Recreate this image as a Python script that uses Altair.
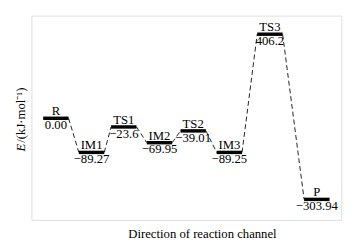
import altair as alt
import pandas as pd

species = ["R", "IM1", "TS1", "IM2", "TS2", "IM3", "TS3", "P"]
energies = ["0.00", "−89.27", "−23.6", "−69.95", "−39.01", "−89.25", "406.2", "−303.94"]
# drawn (schematic) levels
levels = [0, -165, -42, -118, -61, -165, 406.2, -392]
# stage positions along the reaction channel
stage_pos = [25, 61.5, 94.5, 131, 165.5, 202.5, 244, 292]

HALF = 13
bars = pd.DataFrame({
    "name": species, "energy": energies, "level": levels,
    "x0": [p - HALF for p in stage_pos], "x1": [p + HALF for p in stage_pos],
    "xc": stage_pos,
})
links = pd.DataFrame({
    "xa": [stage_pos[i] + HALF for i in range(len(species) - 1)],
    "xb": [stage_pos[i + 1] - HALF for i in range(len(species) - 1)],
    "ya": levels[:-1],
    "yb": levels[1:],
})

W, H = 317, 209
xs = alt.Scale(domain=[0, W], nice=False, zero=False)
ys = alt.Scale(domain=[-491, 496], nice=False, zero=False)
FONT = "Liberation Serif"
FS = 13

lvl = alt.Chart(bars).mark_rule(color="black", strokeWidth=3.5).encode(
    x=alt.X("x0:Q", scale=xs, axis=None), x2="x1:Q",
    y=alt.Y("level:Q", scale=ys, axis=None))

conn = alt.Chart(links).mark_rule(color="#222", strokeWidth=1, strokeDash=[5, 3]).encode(
    x=alt.X("xa:Q", scale=xs, axis=None), x2="xb:Q",
    y=alt.Y("ya:Q", scale=ys, axis=None), y2="yb:Q")

names = alt.Chart(bars).mark_text(font=FONT, fontSize=FS, baseline="bottom", dy=0, color="black").encode(
    x=alt.X("xc:Q", scale=xs, axis=None), y=alt.Y("level:Q", scale=ys, axis=None), text="name:N")

vals = alt.Chart(bars).mark_text(font=FONT, fontSize=FS, baseline="top", dy=1, color="black").encode(
    x=alt.X("xc:Q", scale=xs, axis=None), y=alt.Y("level:Q", scale=ys, axis=None), text="energy:N")

xtitle = alt.Chart(pd.DataFrame({"t": ["Direction of reaction channel"]})).mark_text(
    font=FONT, fontSize=FS, baseline="middle", align="center", color="black").encode(
    x=alt.value(175), y=alt.value(224), text="t:N")

ytitle_e = alt.Chart(pd.DataFrame({"t": ["E"]})).mark_text(
    font=FONT, fontSize=FS, fontStyle="italic", angle=270, align="left", baseline="middle", color="black").encode(
    x=alt.value(-11), y=alt.value(139), text="t:N")
ytitle_rest = alt.Chart(pd.DataFrame({"t": [" /(kJ·mol⁻¹)"]})).mark_text(
    font=FONT, fontSize=FS, angle=270, align="left", baseline="middle", color="black").encode(
    x=alt.value(-11), y=alt.value(130), text="t:N")

chart = alt.layer(conn, lvl, names, vals, xtitle, ytitle_e, ytitle_rest).properties(
    width=W, height=H,
    autosize=alt.AutoSizeParams(type="none"),
    padding={"left": 24, "top": 5, "right": 11, "bottom": 27},
).configure_view(stroke="#8c8c8c", strokeWidth=1).configure(background="white")

chart.save("out.html", embed_options={"renderer": "svg", "actions": False})
